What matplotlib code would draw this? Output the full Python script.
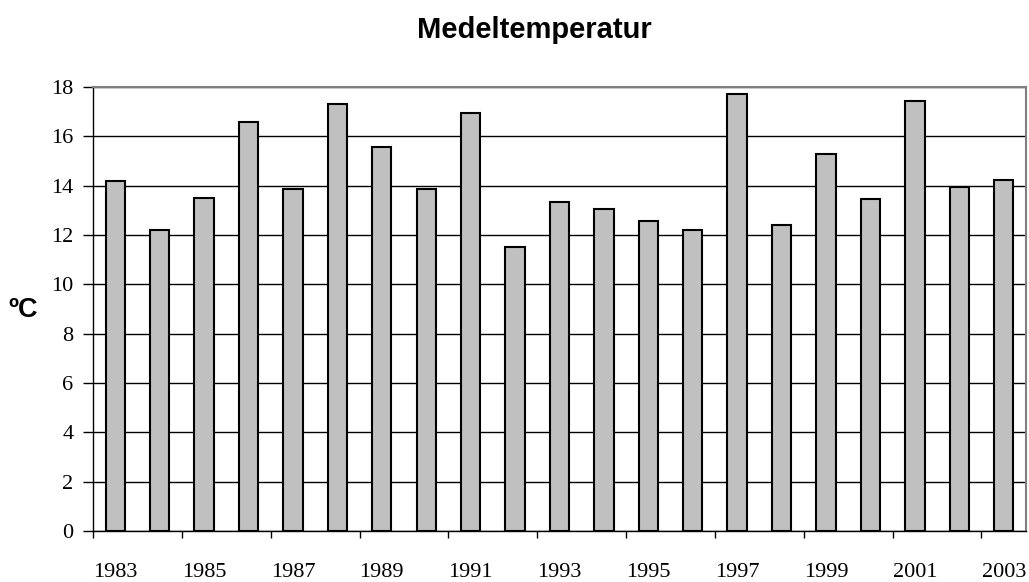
import numpy as np
import matplotlib.pyplot as plt

years = [1983, 1984, 1985, 1986, 1987, 1988, 1989, 1990, 1991, 1992, 1993,
         1994, 1995, 1996, 1997, 1998, 1999, 2000, 2001, 2002, 2003]
temps = [14.2, 12.2, 13.5, 16.6, 13.85, 17.3, 15.55, 13.85, 16.95, 11.5, 13.35,
         13.05, 12.55, 12.2, 17.7, 12.4, 15.3, 13.45, 17.45, 13.95, 14.25]

fig = plt.figure(figsize=(10.29, 5.82), dpi=100)
ax = fig.add_axes([0.0904, 0.0876, 0.9066, 0.7629])

x = np.arange(len(years))
ax.bar(x, temps, width=0.435, color='#c0c0c0', edgecolor='black', linewidth=1.5, zorder=3)

# Y axis / grid
ax.set_ylim(0, 18)
ax.set_yticks(np.arange(0, 19, 2))
ax.yaxis.grid(True, color='black', linewidth=1, zorder=0)
ax.set_xlim(-0.5, len(years) - 0.5)

# x ticks between categories, labels every other year
ax.set_xticks(np.arange(-0.5, len(years), 2), minor=False)
ax.set_xticklabels([])
ax.set_xticks(x[::2], minor=True)
ax.set_xticklabels([str(y) for y in years[::2]], minor=True)
ax.tick_params(axis='x', which='minor', length=0, pad=23)
ax.tick_params(axis='x', which='major', length=5, width=1, direction='out')
ax.tick_params(axis='y', length=7, width=1, direction='out', pad=7)

for lbl in ax.get_xticklabels(minor=True) + ax.get_yticklabels():
    lbl.set_fontfamily('Liberation Serif')
    lbl.set_fontsize(16)

for side in ['top', 'right']:
    ax.spines[side].set_color('#808080')
    ax.spines[side].set_linewidth(1.5)
for side in ['left', 'bottom']:
    ax.spines[side].set_color('black')
    ax.spines[side].set_linewidth(1)

fig.text(0.519, 0.935, 'Medeltemperatur', ha='center', va='baseline',
         fontfamily='Liberation Sans', fontweight='bold', fontsize=21)
fig.text(0.0224, 0.4553, 'ºC', ha='center', va='baseline',
         fontfamily='Liberation Sans', fontweight='bold', fontsize=19.5)

fig.savefig('out.png', dpi=100)
